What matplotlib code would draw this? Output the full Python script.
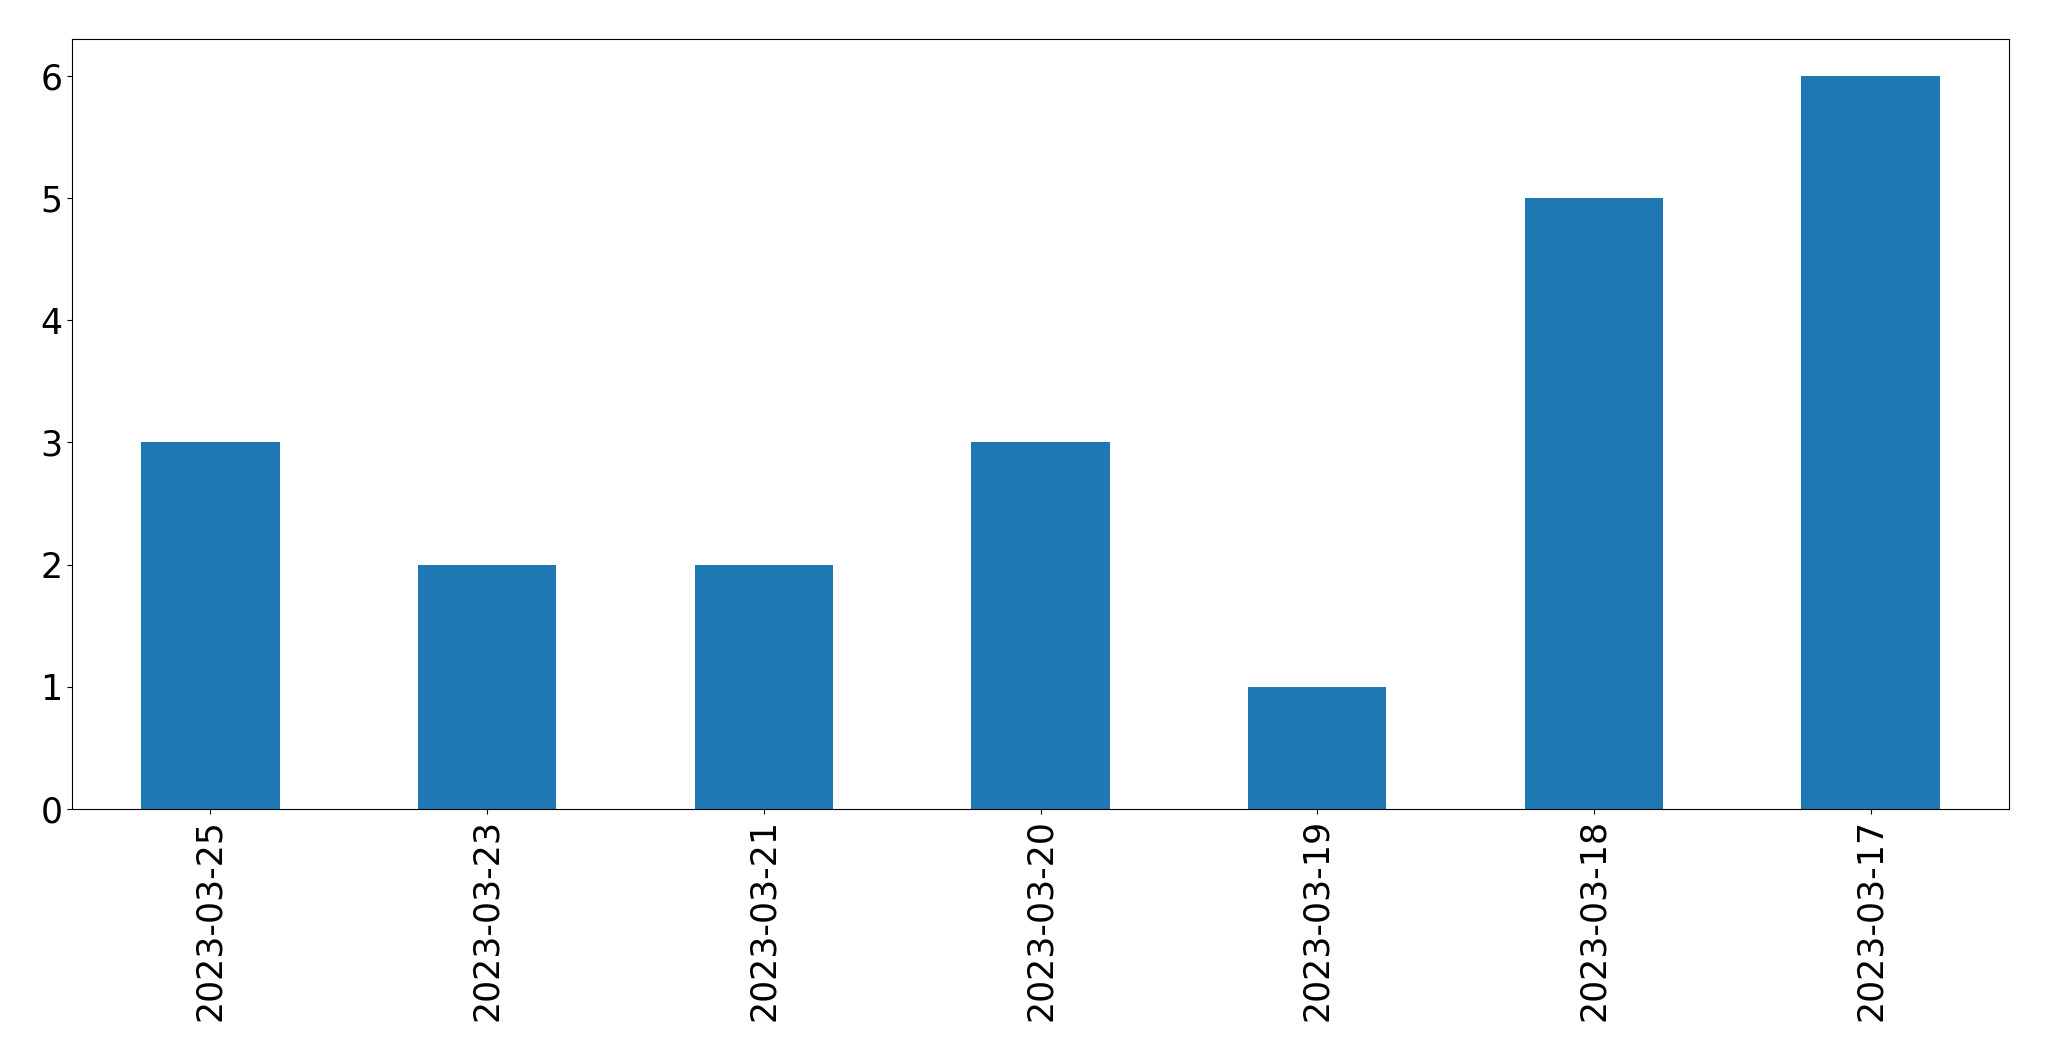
import matplotlib
matplotlib.use("Agg")
import matplotlib.pyplot as plt
import pandas as pd

dates = ["2023-03-25", "2023-03-23", "2023-03-21", "2023-03-20",
         "2023-03-19", "2023-03-18", "2023-03-17"]
counts = [3, 2, 2, 3, 1, 5, 6]

W, H = 2049, 1061
fig = plt.figure(figsize=(W / 100, H / 100), dpi=100)
ax = fig.add_axes([72 / W, (H - 809) / H, (2009 - 72) / W, (809 - 39) / H])

s = pd.Series(counts, index=dates)
s.plot(kind="bar", ax=ax, color="#1f77b4", width=0.5)

ax.tick_params(axis="both", labelsize=25)
for lbl in ax.get_xticklabels():
    lbl.set_rotation(90)

fig.savefig("out.png", dpi=100)
